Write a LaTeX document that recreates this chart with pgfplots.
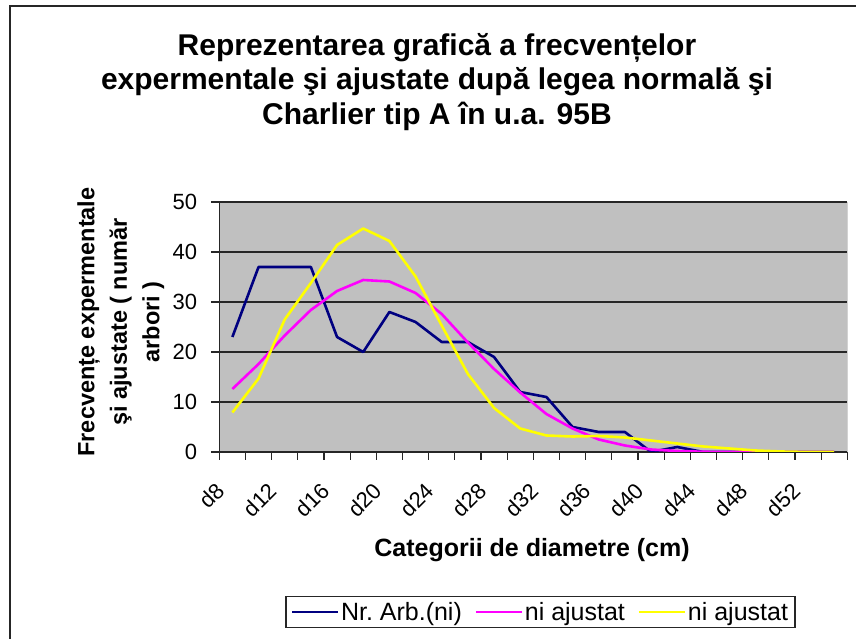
\documentclass[border=0pt]{standalone}
\usepackage{pgfplots}
\pgfplotsset{compat=1.18}
\usepackage{fontspec}
\setmainfont{Liberation Sans}
\definecolor{plotgray}{RGB}{192,192,192}
\definecolor{navyblue}{RGB}{0,0,128}
\definecolor{magentac}{RGB}{255,0,255}
\definecolor{yellowc}{RGB}{255,255,0}
\begin{document}
\begin{tikzpicture}
\path[use as bounding box] (0pt,0pt) rectangle (856pt,639pt);
\draw[line width=1.2pt, black!85] (10pt,-10pt) -- (10pt,633pt) -- (870pt,633pt);
\node[align=center, font=\fontsize{30}{34.5}\selectfont\bfseries] at (437pt,557pt)
  {Reprezentarea grafică a frecvențelor\\expermentale şi ajustate după legea normală şi\\Charlier tip A în u.a. 95B};
\begin{axis}[
  at={(219.3pt,187pt)}, anchor=south west,
  scale only axis, width=628pt, height=250pt,
  xmin=-0.5, xmax=23.5, ymin=0, ymax=50,
  axis background/.style={fill=plotgray},
  axis x line*=bottom, axis y line*=left,
  axis line style={line width=1.2pt, black!85},
  every axis plot/.append style={line join=round},
  ytick={0,10,...,50},
  ymajorgrids, major grid style={black!85, line width=1.2pt},
  xtick={-0.5,0.5,...,23.5},
  x tick label as interval,
  xticklabels={d8,,d12,,d16,,d20,,d24,,d28,,d32,,d36,,d40,,d44,,d48,,d52,,},
  tick align=outside, major tick length=8pt,
  tick style={line width=1.2pt, black!85},
  /pgf/number format/assume math mode=true,
  tick label style={font=\fontsize{22}{24}\selectfont},
  xticklabel style={xshift=-11pt, yshift=-26pt, rotate=45, anchor=east, inner sep=1pt},
  yticklabel style={inner sep=2pt, xshift=-12pt},
  xlabel={Categorii de diametre (cm)},
  ylabel={Frecvențe expermentale\\şi ajustate ( număr\\arbori )},
  xlabel style={at={(axis description cs:0.498,-0.392)}, anchor=center,
    font=\fontsize{25}{33}\selectfont\bfseries, align=center},
  ylabel style={at={(axis description cs:-0.157,0.52)}, anchor=center, rotate=0,
    font=\fontsize{23.5}{32.5}\selectfont\bfseries, align=center},
  legend columns=3,
  legend style={at={(axis description cs:0.5115,-0.64)}, anchor=center, draw=black!85, line width=1.2pt,
    font=\fontsize{25}{27}\selectfont, inner xsep=5pt, inner ysep=4pt,
    /tikz/every even column/.append style={column sep=11pt},
    /tikz/every odd column/.append style={column sep=0pt},
    nodes={inner sep=2pt}},
  legend image code/.code={\draw[#1, line width=2pt] (0pt,0pt) -- (46pt,0pt);},
]
\addplot[navyblue, line width=2.6pt] coordinates {
(0,23) (1,37) (2,37) (3,37) (4,23) (5,20) (6,28) (7,26) (8,22) (9,22) (10,19) (11,12)
(12,11) (13,5) (14,4) (15,4) (16,0) (17,1) (18,0) (19,0) (20,0) (21,0) (22,0) (23,0)};
\addlegendentry{Nr.\ Arb.(ni)}
\addplot[magentac, line width=2.6pt] coordinates {
(0,12.6) (1,17.6) (2,23.3) (3,28.4) (4,32.2) (5,34.4) (6,34.1) (7,31.8) (8,27.6) (9,21.9) (10,16.6) (11,11.9)
(12,7.6) (13,4.7) (14,2.5) (15,1.3) (16,0.5) (17,0.2) (18,0.05) (19,0) (20,0) (21,0) (22,0) (23,0)};
\addlegendentry{ni ajustat}
\addplot[yellowc, line width=2.6pt] coordinates {
(0,7.9) (1,14.7) (2,26.5) (3,33.8) (4,41.4) (5,44.7) (6,42.2) (7,35.1) (8,25.3) (9,15.6) (10,8.8) (11,4.7)
(12,3.3) (13,3.1) (14,3.2) (15,2.9) (16,2.3) (17,1.7) (18,1.1) (19,0.7) (20,0.3) (21,0.1) (22,0) (23,0)};
\addlegendentry{ni ajustat}
\draw[gray, line width=1.2pt] (rel axis cs:1,0) -- (rel axis cs:1,1);
\end{axis}
\end{tikzpicture}
\end{document}
